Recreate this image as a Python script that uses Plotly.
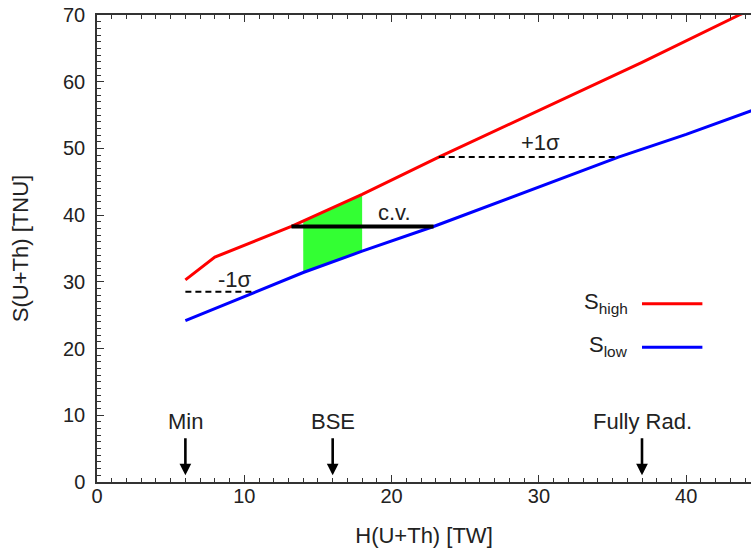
import numpy as np
import plotly.graph_objects as go

# S_high (red) curve
high_x = [6.0, 8.0, 13.2, 18.0, 23.2, 30.0, 37.0, 43.6, 44.5]
high_y = [30.3, 33.7, 38.3, 43.1, 48.7, 55.7, 62.9, 70.0, 70.9]
# S_low (blue) curve
low_x = [6.0, 10.6, 14.0, 18.0, 22.85, 35.4, 40.0, 44.5]
low_y = [24.2, 28.4, 31.4, 34.6, 38.3, 48.7, 52.1, 55.7]

# sigma levels and central value
minus_sigma = 28.5
plus_sigma = 48.7
central_value = 38.3
bse_band = [14.0, 18.0]

# model markers
model_names = ["Min", "BSE", "Fully Rad."]
model_h = [6.0, 16.0, 37.0]

FONT = "Liberation Sans, Arial, sans-serif"

def x_on(curve_x, curve_y, y):
    return float(np.interp(y, curve_y, curve_x))

fig = go.Figure()

# green band between curves
bx = np.linspace(bse_band[0], bse_band[1], 20)
top = np.interp(bx, high_x, high_y)
bot = np.interp(bx, low_x, low_y)
fig.add_trace(go.Scatter(
    x=list(bx) + list(bx[::-1]), y=list(top) + list(bot[::-1]),
    fill="toself", fillcolor="#33ff33", line=dict(width=0),
    mode="lines", showlegend=False, hoverinfo="skip"))

fig.add_trace(go.Scatter(x=high_x, y=high_y, mode="lines",
                         line=dict(color="#ff0000", width=3), showlegend=False))
fig.add_trace(go.Scatter(x=low_x, y=low_y, mode="lines",
                         line=dict(color="#0000ff", width=3), showlegend=False))

# -1 sigma dashed line
fig.add_trace(go.Scatter(
    x=[high_x[0], x_on(low_x, low_y, minus_sigma)], y=[minus_sigma, minus_sigma],
    mode="lines", line=dict(color="black", width=2, dash="6px,4px"), showlegend=False))
# +1 sigma dashed line
fig.add_trace(go.Scatter(
    x=[x_on(high_x, high_y, plus_sigma), x_on(low_x, low_y, plus_sigma)],
    y=[plus_sigma, plus_sigma],
    mode="lines", line=dict(color="black", width=2, dash="6px,4px"), showlegend=False))
# central value line
fig.add_trace(go.Scatter(
    x=[x_on(high_x, high_y, central_value), x_on(low_x, low_y, central_value)],
    y=[central_value, central_value],
    mode="lines", line=dict(color="black", width=4), showlegend=False))

# legend lines (manual)
fig.add_trace(go.Scatter(x=[37.0, 41.1], y=[26.7, 26.7], mode="lines",
                         line=dict(color="#ff0000", width=3), showlegend=False))
fig.add_trace(go.Scatter(x=[37.0, 41.1], y=[20.2, 20.2], mode="lines",
                         line=dict(color="#0000ff", width=3), showlegend=False))

ann = []
ann.append(dict(x=9.4, y=30.3, text="-1σ", showarrow=False, font=dict(size=22)))
ann.append(dict(x=30.1, y=50.9, text="+1σ", showarrow=False, font=dict(size=22)))
ann.append(dict(x=20.2, y=40.4, text="c.v.", showarrow=False, font=dict(size=22)))
ann.append(dict(x=36.2, y=26.9, text="S<sub>high</sub>", showarrow=False,
                xanchor="right", font=dict(size=22)))
ann.append(dict(x=36.2, y=20.4, text="S<sub>low</sub>", showarrow=False,
                xanchor="right", font=dict(size=22)))
for name, h in zip(model_names, model_h):
    ann.append(dict(x=h, y=9.0, text=name, showarrow=False, font=dict(size=22)))
    ann.append(dict(x=h, y=1.0, ax=h, ay=6.8, axref="x", ayref="y", text="",
                    showarrow=True, arrowhead=2, arrowsize=0.9, arrowwidth=2.6,
                    arrowcolor="black"))

axis_common = dict(
    showgrid=False, zeroline=False, showline=True, linecolor="#333333", linewidth=1.5,
    ticks="inside", ticklen=7, tickwidth=1.2, tickcolor="#333333",
    tickfont=dict(size=20, color="#222222"), automargin=False,
    ticklabeloverflow="allow",
    minor=dict(dtick=1, ticks="inside", ticklen=4, tickwidth=1, tickcolor="#333333"),
)

fig.update_layout(
    width=751, height=554,
    margin=dict(l=97, r=0, t=15, b=72),
    plot_bgcolor="white", paper_bgcolor="white",
    font=dict(family=FONT, color="#222222", size=20),
    annotations=ann,
    hovermode=False,
    xaxis=dict(range=[0, 44.4], dtick=10, mirror="ticks", ticklabelstandoff=-5,
               title=dict(text="H(U+Th) [TW]", font=dict(size=22), standoff=22),
               **axis_common),
    yaxis=dict(range=[0, 70], dtick=10, mirror=False, ticklabelstandoff=6,
               title=dict(text="S(U+Th) [TNU]", font=dict(size=22), standoff=28),
               **axis_common),
)

# remove the default page margin so the 751x554 figure fills the window exactly
fig.write_html("out.html", config={"displayModeBar": False},
               post_script="document.body.style.margin='0';document.body.style.overflow='hidden';")
